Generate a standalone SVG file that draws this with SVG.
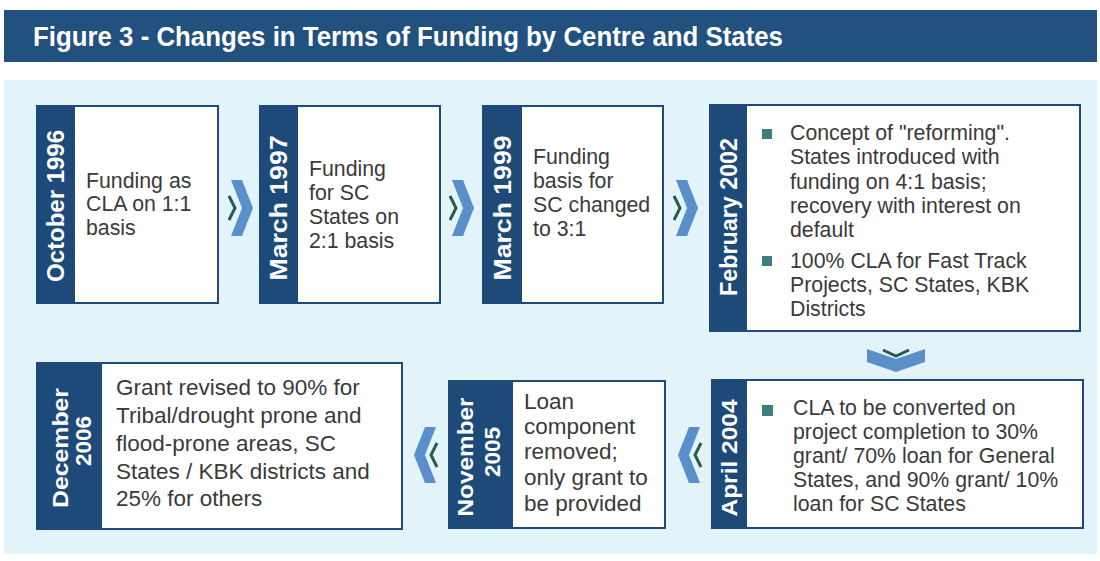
<svg xmlns="http://www.w3.org/2000/svg" width="1100" height="561" viewBox="0 0 1100 561">
  <style>
    .title { font-family: "Liberation Sans", Arial, sans-serif; font-weight: bold; font-size: 27px; fill: #ffffff; }
    .box { fill: #ffffff; stroke: #1e4a7a; stroke-width: 2; }
    .band { fill: #1e4a7a; }
    .date { font-family: "Liberation Sans", Arial, sans-serif; font-weight: bold; font-size: 24px; fill: #ffffff; text-anchor: middle; }
    .date-sm { font-family: "Liberation Sans", Arial, sans-serif; font-weight: bold; font-size: 22.5px; fill: #ffffff; text-anchor: middle; }
    .body { font-family: "Liberation Sans", Arial, sans-serif; font-size: 21.3px; fill: #3a3a3a; }
    .body-lg { font-family: "Liberation Sans", Arial, sans-serif; font-size: 22.5px; fill: #3a3a3a; }
    .bullet { fill: #3d7f80; }
    .chev { fill: #5b8fcc; }
    .chev-dark { fill: none; stroke: #2a5a50; stroke-width: 3; stroke-linejoin: miter; }
  </style>

  <!-- page -->
  <rect x="0" y="0" width="1100" height="561" fill="#ffffff"/>

  <!-- heading bar -->
  <g id="heading">
    <rect x="4" y="10" width="1093" height="52" fill="#22507f"/>
    <text class="title" x="33" y="46" textLength="750" lengthAdjust="spacingAndGlyphs">Figure 3 - Changes in Terms of Funding by Centre and States</text>
  </g>

  <!-- light panel behind the timeline -->
  <rect id="panel" x="4" y="80" width="1093" height="474" fill="#e2f3f9"/>

  <!-- connectors: chevrons between the stages -->
  <g id="connectors">
    <!-- Oct 1996 -> Mar 1997 -->
    <polygon class="chev" points="231,180 242,180 253,208 242,236 231,236 242,208"/>
    <polyline class="chev-dark" points="229,196 235,208 229,220"/>
    <!-- Mar 1997 -> Mar 1999 -->
    <polygon class="chev" points="452,180 463,180 474,208 463,236 452,236 463,208"/>
    <polyline class="chev-dark" points="450,196 456,208 450,220"/>
    <!-- Mar 1999 -> Feb 2002 -->
    <polygon class="chev" points="676,180 687,180 698,208 687,236 676,236 687,208"/>
    <polyline class="chev-dark" points="674,196 680,208 674,220"/>
    <!-- Feb 2002 -> Apr 2004 (downward) -->
    <polygon class="chev" points="867,349 896,359 925,349 925,362 896,372 867,362"/>
    <polyline class="chev-dark" points="883,350 896,356 909,350"/>
    <!-- Apr 2004 -> Nov 2005 -->
    <polygon class="chev" points="700,427 689,427 678,455 689,483 700,483 689,455"/>
    <polyline class="chev-dark" points="701,443 695,455 701,467"/>
    <!-- Nov 2005 -> Dec 2006 -->
    <polygon class="chev" points="436,427 425,427 414,455 425,483 436,483 425,455"/>
    <polyline class="chev-dark" points="437,443 431,455 437,467"/>
  </g>

  <!-- October 1996 -->
  <g id="oct1996">
    <rect class="box" x="37" y="106" width="181" height="197"/>
    <rect class="band" x="37" y="106" width="38" height="197"/>
    <text class="date" transform="translate(64,206) rotate(-90)" textLength="152" lengthAdjust="spacingAndGlyphs">October 1996</text>
    <text class="body"><tspan x="86" y="188">Funding as</tspan><tspan x="86" y="211">CLA on 1:1</tspan><tspan x="86" y="235">basis</tspan></text>
  </g>

  <!-- March 1997 -->
  <g id="mar1997">
    <rect class="box" x="260" y="106" width="180" height="197"/>
    <rect class="band" x="260" y="106" width="38" height="197"/>
    <text class="date" transform="translate(287,208) rotate(-90)" textLength="145" lengthAdjust="spacingAndGlyphs">March 1997</text>
    <text class="body"><tspan x="309" y="176">Funding</tspan><tspan x="309" y="200">for SC</tspan><tspan x="309" y="224">States on</tspan><tspan x="309" y="248">2:1 basis</tspan></text>
  </g>

  <!-- March 1999 -->
  <g id="mar1999">
    <rect class="box" x="483" y="106" width="180" height="197"/>
    <rect class="band" x="483" y="106" width="39" height="197"/>
    <text class="date" transform="translate(511,208) rotate(-90)" textLength="145" lengthAdjust="spacingAndGlyphs">March 1999</text>
    <text class="body"><tspan x="533" y="164">Funding</tspan><tspan x="533" y="188">basis for</tspan><tspan x="533" y="212">SC changed</tspan><tspan x="533" y="236">to 3:1</tspan></text>
  </g>

  <!-- February 2002 -->
  <g id="feb2002">
    <rect class="box" x="710" y="105" width="370" height="226"/>
    <rect class="band" x="710" y="105" width="37" height="226"/>
    <text class="date" transform="translate(737,217) rotate(-90)" textLength="158" lengthAdjust="spacingAndGlyphs">February 2002</text>
    <rect class="bullet" x="762" y="129" width="10" height="10"/>
    <text class="body"><tspan x="790" y="140">Concept of "reforming".</tspan><tspan x="790" y="164">States introduced with</tspan><tspan x="790" y="189">funding on 4:1 basis;</tspan><tspan x="790" y="213">recovery with interest on</tspan><tspan x="790" y="237">default</tspan></text>
    <rect class="bullet" x="762" y="256" width="10" height="10"/>
    <text class="body"><tspan x="790" y="268">100% CLA for Fast Track</tspan><tspan x="790" y="292">Projects, SC States, KBK</tspan><tspan x="790" y="316">Districts</tspan></text>
  </g>

  <!-- April 2004 -->
  <g id="apr2004">
    <rect class="box" x="712" y="380" width="371" height="148"/>
    <rect class="band" x="712" y="380" width="35" height="148"/>
    <text class="date-sm" transform="translate(737,458) rotate(-90)" textLength="117" lengthAdjust="spacingAndGlyphs">April 2004</text>
    <rect class="bullet" x="762" y="405" width="11" height="11"/>
    <text class="body"><tspan x="793" y="415">CLA to be converted on</tspan><tspan x="793" y="439">project completion to 30%</tspan><tspan x="793" y="463">grant/ 70% loan for General</tspan><tspan x="793" y="487">States, and 90% grant/ 10%</tspan><tspan x="793" y="511">loan for SC States</tspan></text>
  </g>

  <!-- November 2005 -->
  <g id="nov2005">
    <rect class="box" x="449" y="381" width="216" height="147"/>
    <rect class="band" x="449" y="381" width="64" height="147"/>
    <text class="date-sm" transform="translate(473,457) rotate(-90)" textLength="119" lengthAdjust="spacingAndGlyphs">November</text>
    <text class="date-sm" transform="translate(500,452) rotate(-90)">2005</text>
    <text class="body-lg"><tspan x="524" y="409">Loan</tspan><tspan x="524" y="434">component</tspan><tspan x="524" y="459">removed;</tspan><tspan x="524" y="485">only grant to</tspan><tspan x="524" y="511">be provided</tspan></text>
  </g>

  <!-- December 2006 -->
  <g id="dec2006">
    <rect class="box" x="37" y="363" width="365" height="166"/>
    <rect class="band" x="37" y="363" width="65" height="166"/>
    <text class="date-sm" transform="translate(68,448) rotate(-90)" textLength="120" lengthAdjust="spacingAndGlyphs">December</text>
    <text class="date-sm" transform="translate(91,441) rotate(-90)">2006</text>
    <text class="body-lg"><tspan x="116" y="395">Grant revised to 90% for</tspan><tspan x="116" y="423">Tribal/drought prone and</tspan><tspan x="116" y="451">flood-prone areas, SC</tspan><tspan x="116" y="479">States / KBK districts and</tspan><tspan x="116" y="506">25% for others</tspan></text>
  </g>
</svg>
